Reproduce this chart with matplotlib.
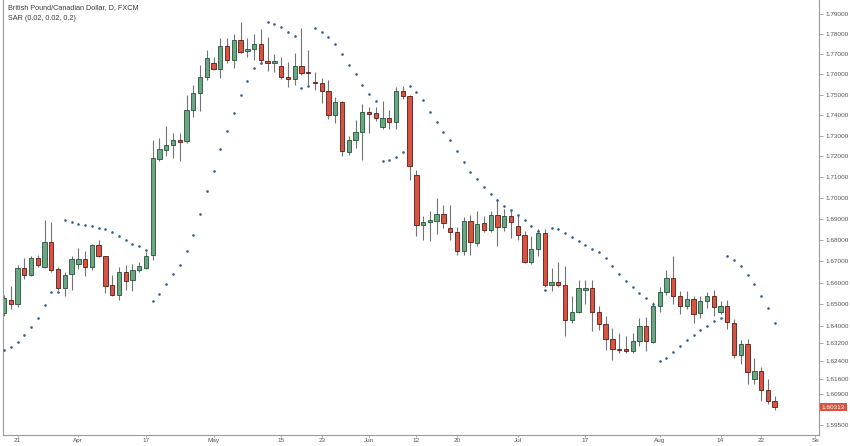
import matplotlib
matplotlib.use("Agg")
import matplotlib.pyplot as plt
from matplotlib.ticker import NullLocator
import numpy as np

# GBP/CAD daily candles, 17 Mar - 24 Aug 2017
opens = [1.6460, 1.6522, 1.6502, 1.6669, 1.6638, 1.6716, 1.6674, 1.6791, 1.6664, 1.6576,
         1.6641, 1.6689, 1.6711, 1.6674, 1.6777, 1.6723, 1.6588, 1.6542, 1.6650, 1.6611,
         1.6658, 1.6669, 1.6728, 1.7188, 1.7231, 1.7252, 1.7276, 1.7271, 1.7425, 1.7507,
         1.7588, 1.7657, 1.7625, 1.7742, 1.7671, 1.7770, 1.7715, 1.7724, 1.7749, 1.7667,
         1.7654, 1.7641, 1.7588, 1.7577, 1.7641, 1.7613, 1.7561, 1.7556, 1.7515, 1.7400,
         1.7463, 1.7218, 1.7276, 1.7315, 1.7414, 1.7410, 1.7341, 1.7384, 1.7368, 1.7515,
         1.7494, 1.7111, 1.6871, 1.6884, 1.6892, 1.6925, 1.6857, 1.6836, 1.6750, 1.6892,
         1.6786, 1.6881, 1.6849, 1.6917, 1.6862, 1.6915, 1.6865, 1.6825, 1.6695, 1.6758,
         1.6833, 1.6591, 1.6605, 1.6590, 1.6426, 1.6463, 1.6565, 1.6576, 1.6465, 1.6411,
         1.6338, 1.6295, 1.6295, 1.6284, 1.6330, 1.6399, 1.6325, 1.6491, 1.6556, 1.6622,
         1.6537, 1.6494, 1.6525, 1.6460, 1.6514, 1.6537, 1.6463, 1.6494, 1.6414, 1.6265,
         1.6315, 1.6159, 1.6193, 1.6107, 1.6058]
highs = [1.6545, 1.6583, 1.6685, 1.6716, 1.6727, 1.6731, 1.6896, 1.6884, 1.6674, 1.6649,
         1.6727, 1.6763, 1.6747, 1.6780, 1.6802, 1.6727, 1.6638, 1.6674, 1.6685, 1.6689,
         1.6695, 1.6742, 1.7279, 1.7287, 1.7347, 1.7312, 1.7312, 1.7499, 1.7548, 1.7646,
         1.7720, 1.7687, 1.7779, 1.7779, 1.7800, 1.7862, 1.7779, 1.7800, 1.7824, 1.7787,
         1.7699, 1.7687, 1.7662, 1.7704, 1.7829, 1.7720, 1.7613, 1.7580, 1.7572, 1.7490,
         1.7466, 1.7299, 1.7376, 1.7454, 1.7438, 1.7441, 1.7466, 1.7422, 1.7536, 1.7543,
         1.7499, 1.7135, 1.6915, 1.6936, 1.6999, 1.6967, 1.6967, 1.6862, 1.6909, 1.6920,
         1.6936, 1.6912, 1.6939, 1.6994, 1.6947, 1.6944, 1.6920, 1.6841, 1.6817, 1.6852,
         1.6852, 1.6669, 1.6695, 1.6677, 1.6537, 1.6614, 1.6614, 1.6614, 1.6494, 1.6445,
         1.6391, 1.6368, 1.6356, 1.6368, 1.6437, 1.6442, 1.6509, 1.6581, 1.6661, 1.6727,
         1.6560, 1.6560, 1.6540, 1.6540, 1.6556, 1.6565, 1.6514, 1.6519, 1.6433, 1.6334,
         1.6341, 1.6254, 1.6213, 1.6156, 1.6083]
lows = [1.6448, 1.6479, 1.6488, 1.6618, 1.6630, 1.6674, 1.6671, 1.6649, 1.6568, 1.6540,
        1.6568, 1.6664, 1.6630, 1.6661, 1.6721, 1.6553, 1.6537, 1.6522, 1.6568, 1.6560,
        1.6649, 1.6664, 1.6708, 1.7175, 1.7202, 1.7191, 1.7175, 1.7263, 1.7392, 1.7417,
        1.7572, 1.7621, 1.7580, 1.7654, 1.7630, 1.7707, 1.7687, 1.7671, 1.7651, 1.7618,
        1.7613, 1.7576, 1.7536, 1.7548, 1.7597, 1.7548, 1.7523, 1.7458, 1.7380, 1.7360,
        1.7202, 1.7207, 1.7239, 1.7183, 1.7312, 1.7373, 1.7331, 1.7331, 1.7331, 1.7478,
        1.7087, 1.6817, 1.6802, 1.6794, 1.6830, 1.6857, 1.6802, 1.6731, 1.6731, 1.6731,
        1.6770, 1.6836, 1.6836, 1.6770, 1.6841, 1.6810, 1.6802, 1.6693, 1.6689, 1.6723,
        1.6581, 1.6560, 1.6581, 1.6356, 1.6414, 1.6460, 1.6503, 1.6376, 1.6380, 1.6289,
        1.6243, 1.6274, 1.6277, 1.6274, 1.6307, 1.6284, 1.6322, 1.6463, 1.6545, 1.6503,
        1.6457, 1.6479, 1.6414, 1.6437, 1.6483, 1.6448, 1.6453, 1.6384, 1.6254, 1.6224,
        1.6133, 1.6133, 1.6058, 1.6043, 1.6016]
closes = [1.6530, 1.6502, 1.6669, 1.6638, 1.6716, 1.6685, 1.6791, 1.6661, 1.6576, 1.6638,
          1.6711, 1.6711, 1.6674, 1.6777, 1.6723, 1.6583, 1.6542, 1.6650, 1.6607, 1.6658,
          1.6680, 1.6727, 1.7191, 1.7234, 1.7252, 1.7279, 1.7270, 1.7425, 1.7510, 1.7588,
          1.7679, 1.7625, 1.7742, 1.7671, 1.7770, 1.7712, 1.7725, 1.7749, 1.7671, 1.7654,
          1.7667, 1.7588, 1.7577, 1.7641, 1.7608, 1.7608, 1.7556, 1.7515, 1.7400, 1.7463,
          1.7223, 1.7276, 1.7315, 1.7414, 1.7407, 1.7384, 1.7384, 1.7368, 1.7515, 1.7494,
          1.7154, 1.6873, 1.6885, 1.6896, 1.6925, 1.6881, 1.6836, 1.6750, 1.6892, 1.6789,
          1.6877, 1.6849, 1.6917, 1.6862, 1.6915, 1.6887, 1.6825, 1.6695, 1.6758, 1.6833,
          1.6591, 1.6605, 1.6590, 1.6426, 1.6463, 1.6576, 1.6576, 1.6463, 1.6411, 1.6338,
          1.6295, 1.6289, 1.6287, 1.6330, 1.6399, 1.6330, 1.6491, 1.6556, 1.6622, 1.6540,
          1.6494, 1.6525, 1.6457, 1.6514, 1.6537, 1.6488, 1.6494, 1.6417, 1.6265, 1.6315,
          1.6189, 1.6193, 1.6107, 1.6058, 1.60313]
# parabolic SAR (0.02, 0.02, 0.2)
sar = [1.6292, 1.6302, 1.6325, 1.6357, 1.6394, 1.6435, 1.6497, 1.6556, 1.6556, 1.6893,
       1.6884, 1.6876, 1.6869, 1.6865, 1.6857, 1.6852, 1.6838, 1.6817, 1.6802, 1.6783,
       1.6770, 1.6752, 1.6517, 1.6548, 1.6596, 1.6639, 1.6683, 1.6747, 1.6824, 1.6923,
       1.7035, 1.7131, 1.7234, 1.7323, 1.7409, 1.7499, 1.7569, 1.7630, 1.7657, 1.7862,
       1.7850, 1.7837, 1.7812, 1.7790, 1.7534, 1.7543, 1.7829, 1.7812, 1.7787, 1.7750,
       1.7699, 1.7646, 1.7601, 1.7548, 1.7503, 1.7466, 1.7179, 1.7183, 1.7194, 1.7218,
       1.7543, 1.7512, 1.7471, 1.7414, 1.7365, 1.7317, 1.7276, 1.7223, 1.7172, 1.7126,
       1.7090, 1.7052, 1.7020, 1.6991, 1.6963, 1.6940, 1.6920, 1.6893, 1.6867, 1.6845,
       1.6568, 1.6857, 1.6852, 1.6833, 1.6813, 1.6794, 1.6778, 1.6758, 1.6742, 1.6716,
       1.6677, 1.6643, 1.6610, 1.6581, 1.6552, 1.6529, 1.6503, 1.6239, 1.6255, 1.6281,
       1.6310, 1.6334, 1.6357, 1.6380, 1.6402, 1.6422, 1.6437, 1.6727, 1.6708, 1.6677,
       1.6635, 1.6596, 1.6540, 1.6483, 1.6414]

tick_pos = [2, 11, 21, 31, 41, 47, 54, 61, 67, 76, 86, 97, 106, 112, 120]
tick_labels = ["21", "Apr", "17", "May", "15", "23", "Jun", "12", "20", "Jul",
               "17", "Aug", "14", "22", "Se"]
price_ticks = [1.79, 1.78, 1.77, 1.76, 1.75, 1.74, 1.73, 1.72, 1.71, 1.70, 1.69,
               1.68, 1.67, 1.66, 1.65, 1.64, 1.632, 1.624, 1.616, 1.609, 1.595]
last_price = 1.60313

up_col, dn_col = "#6ba583", "#d75442"
up_edge, dn_edge = "#225437", "#5b1a13"
wick_col = "#737375"
sar_col = "#35618f"
grey = "#9a9a9a"

plt.rcParams['font.family'] = ['Liberation Sans', 'DejaVu Sans']

fig = plt.figure(figsize=(8.5, 4.46), dpi=100)
ax = fig.add_axes([3 / 850, 11 / 446, 816 / 850, 435 / 446])

o = np.array(opens)
h = np.array(highs)
l = np.array(lows)
c = np.array(closes)
idx = np.arange(len(o))
up = c >= o

ax.vlines(idx, l, h, color=wick_col, lw=0.8, zorder=1)
body_lo = np.minimum(o, c)
body_h = np.maximum(np.abs(c - o), 0.0003)
ax.bar(idx, body_h, 0.64, bottom=body_lo,
       color=[up_col if u else dn_col for u in up],
       edgecolor=[up_edge if u else dn_edge for u in up],
       linewidth=0.6, zorder=2)
ax.plot(idx, sar, 'o', ms=1.9, color=sar_col, mec='none', zorder=3)

ax.set_yscale('log')
ax.set_xlim(-0.15, 120.56)
ax.set_ylim(1.59060, 1.79703)

ax.yaxis.tick_right()
ax.set_yticks(price_ticks, labels=["%.5f" % p for p in price_ticks])
ax.yaxis.set_minor_locator(NullLocator())
ax.set_xticks(tick_pos, labels=tick_labels)
ax.tick_params(axis='y', length=3, width=0.6, color=grey, labelsize=4.6,
               labelcolor='#555555', pad=1.5)
ax.tick_params(axis='x', length=1.5, width=0.6, color=grey, labelsize=4.6,
               labelcolor='#555555', pad=0.8)

ax.spines['top'].set_visible(False)
for s in ['left', 'right', 'bottom']:
    ax.spines[s].set_color(grey)
    ax.spines[s].set_linewidth(0.8)

# last price tag on the price scale
ax.text(1.003, last_price, "%.5f" % last_price, transform=ax.get_yaxis_transform(),
        ha='left', va='center', color='white', fontsize=4.6,
        bbox=dict(boxstyle='square,pad=0.3', fc=dn_col, ec='none'), clip_on=False)

fig.text(8 / 850, 1 - 8 / 446, "British Pound/Canadian Dollar, D, FXCM",
         fontsize=5.2, color='#3c3c3c', ha='left', va='center')
fig.text(8 / 850, 1 - 19 / 446, "SAR (0.02, 0.02, 0.2)",
         fontsize=5.2, color='#3c3c3c', ha='left', va='center')

fig.savefig("out.png", dpi=100)
